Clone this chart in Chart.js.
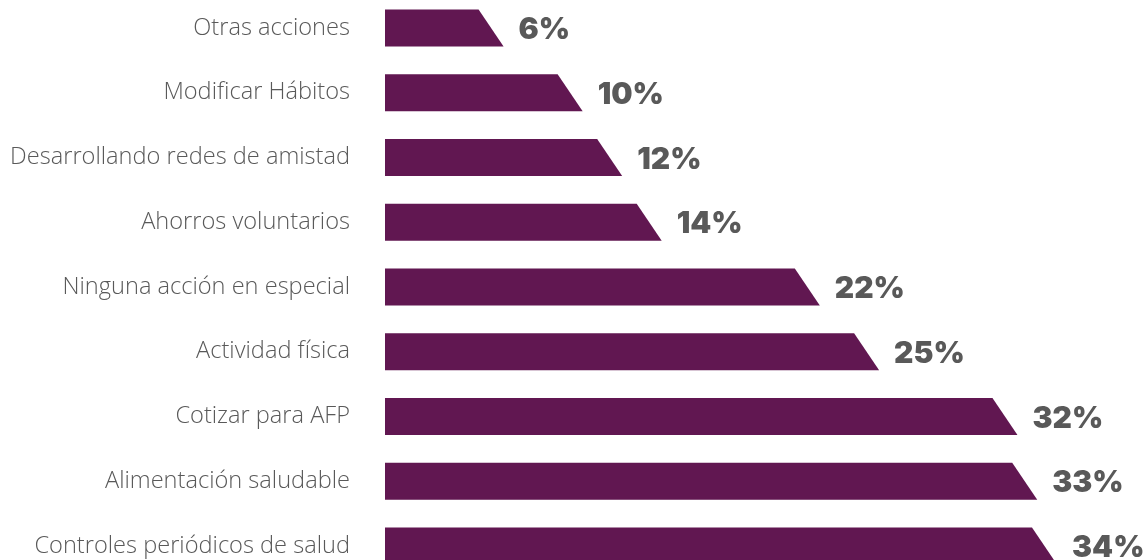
<!DOCTYPE html>
<html>
<head>
<meta charset="utf-8">
<script src="https://cdn.jsdelivr.net/npm/chart.js@4/dist/chart.umd.min.js"></script>
<style>
  html, body { margin: 0; padding: 0; background: #fff; }
  #wrap { width: 1147px; height: 560px; }
</style>
</head>
<body>
<div id="wrap"><canvas id="chart"></canvas></div>
<script>
const categories = [
  'Otras acciones',
  'Modificar Hábitos',
  'Desarrollando redes de amistad',
  'Ahorros voluntarios',
  'Ninguna acción en especial',
  'Actividad física',
  'Cotizar para AFP',
  'Alimentación saludable',
  'Controles periódicos de salud'
];
const values = [6, 10, 12, 14, 22, 25, 32, 33, 34];
const valueLabels = ['6%', '10%', '12%', '14%', '22%', '25%', '32%', '33%', '34%'];

const BAR_COLOR = '#611751';
const TEXT_COLOR = '#595959';
const SLANT = 25;

// draws each bar as a trapezoid (slanted right end) plus its value label
const slantBars = {
  id: 'slantBars',
  afterDatasetsDraw(chart) {
    const ctx = chart.ctx;
    const meta = chart.getDatasetMeta(0);
    ctx.save();
    meta.data.forEach((bar, i) => {
      const top = bar.y - bar.height / 2;
      const bottom = bar.y + bar.height / 2;
      ctx.fillStyle = BAR_COLOR;
      ctx.beginPath();
      ctx.moveTo(bar.base, top);
      ctx.lineTo(bar.x - SLANT, top);
      ctx.lineTo(bar.x, bottom);
      ctx.lineTo(bar.base, bottom);
      ctx.closePath();
      ctx.fill();

      ctx.fillStyle = TEXT_COLOR;
      ctx.font = '900 30px Inter';
      ctx.textAlign = 'left';
      ctx.textBaseline = 'middle';
      ctx.fillText(valueLabels[i], bar.x + 15, bar.y + 2);
    });
    ctx.restore();
  }
};

new Chart(document.getElementById('chart'), {
  type: 'bar',
  data: {
    labels: categories,
    datasets: [{
      data: values,
      backgroundColor: 'rgba(0,0,0,0)',
      borderWidth: 0,
      barThickness: 37,
      clip: false
    }]
  },
  options: {
    indexAxis: 'y',
    responsive: true,
    maintainAspectRatio: false,
    animation: false,
    layout: { padding: { top: 28, bottom: 14, right: 90, left: 0 } },
    plugins: {
      legend: { display: false },
      tooltip: { enabled: false }
    },
    scales: {
      x: { display: false, min: 0, max: 34 },
      y: {
        offset: false,
        grid: { display: false, drawTicks: false },
        border: { display: false },
        ticks: {
          color: TEXT_COLOR,
          padding: 35,
          font: { family: 'Open Sans', size: 23.6, weight: '300' }
        },
        afterFit(scale) {
          scale.width = 385;
          scale.paddingTop = 0;
          scale.paddingBottom = 0;
        }
      }
    }
  },
  plugins: [slantBars]
});
</script>
</body>
</html>
